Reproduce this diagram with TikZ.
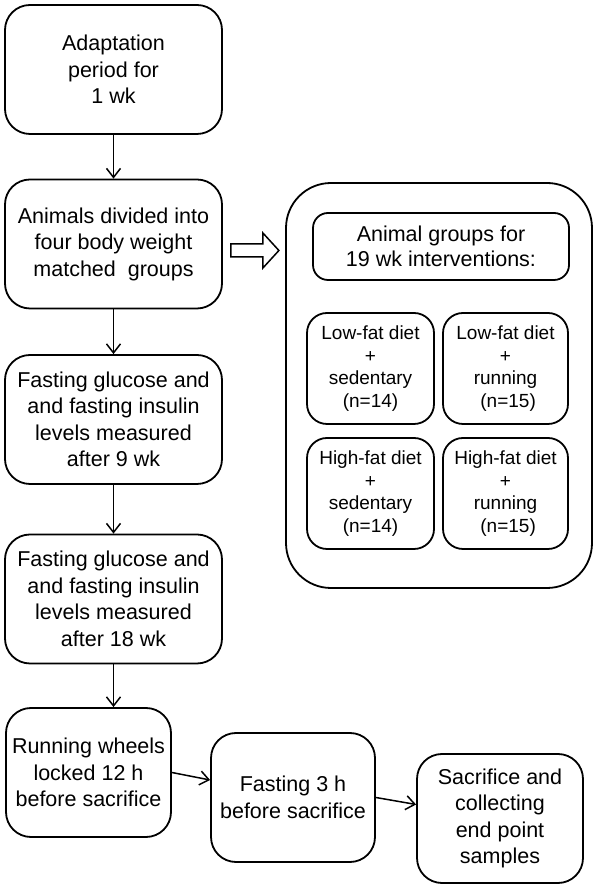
\documentclass[tikz,border=0pt]{standalone}
\usepackage{fontspec}
\setmainfont{Liberation Sans}
\usetikzlibrary{arrows.meta,calc}
\begin{document}
\begin{tikzpicture}[x=1pt,y=1pt,
  box/.style={draw, line width=1.8pt, rounded corners=25pt, align=center, inner sep=0pt,
    font=\fontsize{21.5}{26.5}\selectfont},
  mainbox/.style={box, minimum width=217pt, minimum height=129pt},
  lowbox/.style={box, minimum width=165pt, minimum height=129pt},
  bigbox/.style={draw, line width=1.8pt, rounded corners=45pt, inner sep=0pt,
    minimum width=306pt, minimum height=405pt},
  headbox/.style={box, rounded corners=15pt, minimum width=256pt, minimum height=67pt,
    font=\fontsize{21.5}{25}\selectfont},
  grpbox/.style={box, rounded corners=20pt, minimum height=111pt,
    font=\fontsize{19}{22.5}\selectfont},
  arr/.style={-{Straight Barb[length=9pt,width=14pt,line width=1.5pt]}, line width=1.5pt},
  hollow/.style={draw, line width=1.5pt, line join=miter}
]
\useasboundingbox (0,0) rectangle (600,890);

\node[mainbox] (b1) at (113.5,820.5) {Adaptation\\period for\\1 wk};
\node[mainbox] (b2) at (113.5,646) {Animals divided into\\four body weight\\matched\ \ groups};
\node[mainbox] (b3) at (113.5,470.5) {Fasting glucose and\\and fasting insulin\\levels measured\\after 9 wk};
\node[mainbox] (b4) at (113.5,291) {Fasting glucose and\\and fasting insulin\\levels measured\\after 18 wk};
\node[lowbox] (b5) at (88.5,117.5) {Running wheels\\locked 12 h\\before sacrifice};
\node[lowbox, minimum width=164pt] (b6) at (293,92.5) {Fasting 3 h\\before sacrifice};
\node[lowbox, minimum width=166pt] (b7) at (500,71.5) {Sacrifice and\\collecting\\end point\\samples};

\node[bigbox] (big) at (439,504.5) {};
\node[headbox] (hd) at (441,643.5) {Animal groups for\\19 wk interventions:};
\node[grpbox, minimum width=127pt] (g1) at (370.5,521.5) {Low-fat diet\\+\\sedentary\\(n=14)};
\node[grpbox, minimum width=125pt] (g2) at (505.5,521.5) {Low-fat diet\\+\\running\\\ (n=15)};
\node[grpbox, minimum width=127pt] (g3) at (370.5,396.5) {High-fat diet\\+\\sedentary\\(n=14)};
\node[grpbox, minimum width=125pt] (g4) at (505.5,396.5) {High-fat diet\\+\\running\\\ (n=15)};

\draw[arr] (b1.south) -- (b2.north);
\draw[arr] (b2.south) -- (b3.north);
\draw[arr] (b3.south) -- (b4.north);
\draw[arr] (b4.south) -- (b4.south |- b5.north);
\draw[arr] (b5.east) -- ([yshift=-7.5pt]b6.west |- b5.east);
\draw[arr] (b6.east) -- ([yshift=-7pt]b7.west |- b6.east);

\coordinate (ha) at ($(b2.east)+(8,-6.5)$);
\draw[hollow] ($(ha)+(0,6.5)$) -- ($(ha)+(32,6.5)$) -- ($(ha)+(32,17.5)$)
  -- ($(ha)+(48,0)$) -- ($(ha)+(32,-17.5)$) -- ($(ha)+(32,-6.5)$)
  -- ($(ha)+(0,-6.5)$) -- cycle;
\end{tikzpicture}
\end{document}
